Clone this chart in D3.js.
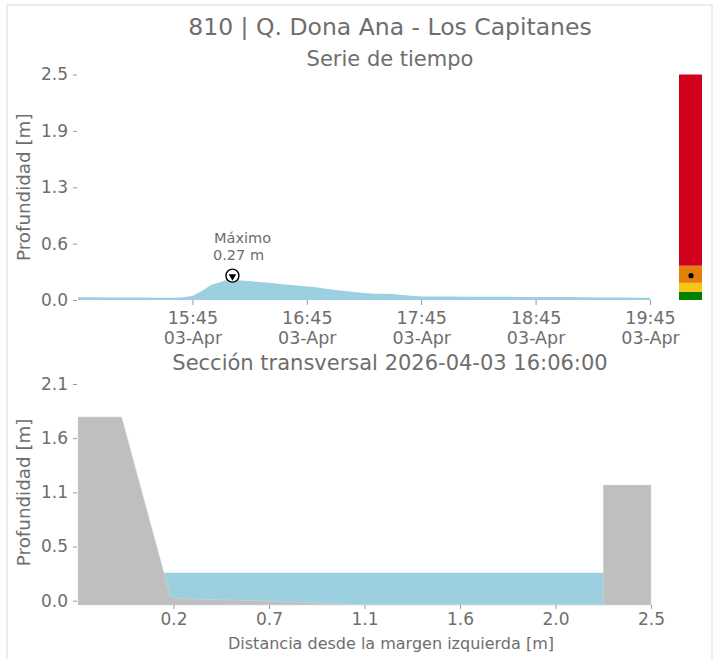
<!DOCTYPE html>
<html>
<head>
<meta charset="utf-8">
<script src="https://cdn.jsdelivr.net/npm/d3@7"></script>
<style>
  html, body { margin: 0; padding: 0; background: #fff; }
  svg { display: block; font-family: "DejaVu Sans", sans-serif; }
</style>
</head>
<body>
<svg id="chart" width="719" height="659"></svg>
<script>
// ---------------- DATA ----------------
const chartTitle = "810 | Q. Dona Ana - Los Capitanes";
const seriesTitle = "Serie de tiempo";
const sectionTitle = "Sección transversal 2026-04-03 16:06:00";
const yLabel = "Profundidad [m]";
const xLabelSection = "Distancia desde la margen izquierda [m]";

// time series (2026-04-03)
const seriesTimes = [
  "14:45","14:50","14:55","15:00","15:05","15:10","15:15","15:20","15:25","15:30",
  "15:35","15:40","15:45","15:50","15:55","16:00","16:03","16:06","16:08","16:10",
  "16:15","16:20","16:25","16:30","16:35","16:40","16:45","16:50","16:55","17:00",
  "17:05","17:10","17:15","17:20","17:25","17:30","17:35","17:40","17:45","17:50",
  "17:55","18:00","18:10","18:20","18:30","18:40","18:50","19:00","19:10","19:20",
  "19:30","19:40","19:45"
];
const seriesDepth = [
  0.030,0.030,0.030,0.029,0.029,0.028,0.028,0.027,0.026,0.026,
  0.025,0.030,0.045,0.100,0.170,0.200,0.225,0.270,0.220,0.215,
  0.210,0.200,0.190,0.180,0.170,0.160,0.150,0.140,0.125,0.110,
  0.100,0.090,0.078,0.068,0.070,0.066,0.056,0.046,0.040,0.040,
  0.039,0.038,0.037,0.036,0.035,0.034,0.033,0.032,0.030,0.029,
  0.027,0.026,0.025
];
const timeTickLabels = ["15:45","16:45","17:45","18:45","19:45"];
const dateTickLabel = "03-Apr";
const seriesYTicks = [0, 0.625, 1.25, 1.875, 2.5];
const seriesYTickLabels = ["0.0","0.6","1.3","1.9","2.5"];
const maxTime = "16:06";
const maxDepth = 0.27;

// alert level bar
const levelBounds = [0, 0.09, 0.19, 0.38, 2.5];
const levelColors = ["#008000", "#f5c518", "#e67e0a", "#d0021b"];
const currentLevel = 0.27;

// cross section
const sectionDist = [-0.26, -0.05, 0.185, 0.22, 0.60, 1.10, 2.27, 2.27, 2.50];
const sectionElev = [1.78, 1.78, 0.04, 0.02, 0.00, -0.04, -0.04, 1.12, 1.12];
const waterLevel = 0.27;
const sectionXTicks = [0.2, 0.66, 1.12, 1.58, 2.04, 2.5];
const sectionXTickLabels = ["0.2","0.7","1.1","1.6","2.0","2.5"];
const sectionYTicks = [0, 0.525, 1.05, 1.575, 2.1];
const sectionYTickLabels = ["0.0","0.5","1.1","1.6","2.1"];

// ---------------- DRAW ----------------
const svg = d3.select("#chart");
const FONT = "DejaVu Sans, sans-serif";
const textColor = "#6e6e6e";
const tickColor = "#9a9a9a";
const waterColor = "#9ccfe0";
const groundColor = "#bfbfbf";

// frame
svg.append("rect").attr("x", 7).attr("y", 5).attr("width", 705).attr("height", 660)
  .attr("fill", "none").attr("stroke", "#e6e6e6").attr("stroke-width", 1.5);

// titles
svg.append("text").attr("x", 390).attr("y", 35).attr("text-anchor", "middle")
  .attr("font-size", 23.5).attr("fill", textColor).text(chartTitle);
svg.append("text").attr("x", 390).attr("y", 66).attr("text-anchor", "middle")
  .attr("font-size", 21).attr("fill", textColor).text(seriesTitle);

// ---- time series panel ----
const parseT = d3.timeParse("%Y-%m-%d %H:%M");
const tData = seriesTimes.map((t, i) => ({ t: parseT("2026-04-03 " + t), v: seriesDepth[i] }));
const x1 = d3.scaleTime()
  .domain([parseT("2026-04-03 14:45"), parseT("2026-04-03 19:45")])
  .range([78, 650]);
const y1 = d3.scaleLinear().domain([0, 2.5]).range([300, 74.5]);

svg.append("path").datum(tData)
  .attr("fill", waterColor)
  .attr("d", d3.area().x(d => x1(d.t)).y0(y1(0)).y1(d => y1(d.v)));

// y axis
const gy1 = svg.append("g").attr("transform", "translate(78,0)")
  .call(d3.axisLeft(y1).tickValues(seriesYTicks)
    .tickFormat((d, i) => seriesYTickLabels[i]).tickSize(4).tickPadding(6));
gy1.select(".domain").remove();
gy1.selectAll(".tick line").attr("stroke", tickColor).attr("transform", "translate(-1,0)");
gy1.selectAll(".tick text").attr("fill", textColor).attr("font-size", 17)
  .attr("font-family", FONT);

// x axis
const timeTicks = timeTickLabels.map(t => parseT("2026-04-03 " + t));
const gx1 = svg.append("g").attr("transform", "translate(0,300)")
  .call(d3.axisBottom(x1).tickValues(timeTicks).tickSize(5).tickFormat(""));
gx1.select(".domain").remove();
gx1.selectAll(".tick line").attr("stroke", tickColor);
gx1.selectAll(".tick").each(function (d, i) {
  const g = d3.select(this);
  g.append("text").attr("y", 23.5).attr("text-anchor", "middle").attr("fill", textColor)
    .attr("font-family", FONT).attr("font-size", 17.5).text(timeTickLabels[i]);
  g.append("text").attr("y", 43.5).attr("text-anchor", "middle").attr("fill", textColor)
    .attr("font-family", FONT).attr("font-size", 17.5).text(dateTickLabel);
});

svg.append("text").attr("transform", `translate(30,${(y1(0) + y1(2.5)) / 2}) rotate(-90)`)
  .attr("text-anchor", "middle").attr("font-size", 18.3).attr("fill", textColor).text(yLabel);

// max marker
const mx = x1(parseT("2026-04-03 " + maxTime)), my = y1(maxDepth);
svg.append("circle").attr("cx", mx).attr("cy", my).attr("r", 6.5)
  .attr("fill", "#fff").attr("stroke", "#000").attr("stroke-width", 1.4);
svg.append("path")
  .attr("d", d3.symbol().type(d3.symbolTriangle).size(24)())
  .attr("transform", `translate(${mx},${my + 0.8}) rotate(180)`)
  .attr("fill", "#000");
svg.append("text").attr("x", 214).attr("y", 242.5).attr("font-size", 14.5)
  .attr("fill", textColor).text("Máximo");
svg.append("text").attr("x", 213).attr("y", 259.5).attr("font-size", 14.5)
  .attr("fill", textColor).text(maxDepth.toFixed(2) + " m");

// level bar
for (let i = 0; i < levelColors.length; i++) {
  svg.append("rect").attr("x", 679).attr("width", 23)
    .attr("y", y1(levelBounds[i + 1])).attr("height", y1(levelBounds[i]) - y1(levelBounds[i + 1]))
    .attr("fill", levelColors[i]);
}
svg.append("circle").attr("cx", 691).attr("cy", y1(currentLevel)).attr("r", 2.6).attr("fill", "#000");

// ---- cross section panel ----
svg.append("text").attr("x", 390).attr("y", 370).attr("text-anchor", "middle")
  .attr("font-size", 21).attr("fill", textColor).text(sectionTitle);

const x2 = d3.scaleLinear().domain([-0.26, 2.5]).range([78, 651]);
const y2 = d3.scaleLinear().domain([-0.042, 2.1]).range([605, 384]);
const sData = sectionDist.map((d, i) => ({ x: d, y: sectionElev[i] }));

svg.append("path").datum(sData)
  .attr("fill", waterColor)
  .attr("d", d3.area().x(d => x2(d.x)).y0(y2(-0.042)).y1(y2(waterLevel)));
svg.append("path").datum(sData)
  .attr("fill", groundColor).attr("stroke", "#d0dadd").attr("stroke-width", 0.5)
  .attr("d", d3.area().x(d => x2(d.x)).y0(y2(-0.042)).y1(d => y2(d.y)));

const gy2 = svg.append("g").attr("transform", "translate(78,0)")
  .call(d3.axisLeft(y2).tickValues(sectionYTicks)
    .tickFormat((d, i) => sectionYTickLabels[i]).tickSize(4).tickPadding(6));
gy2.select(".domain").remove();
gy2.selectAll(".tick line").attr("stroke", tickColor).attr("transform", "translate(-1,0)");
gy2.selectAll(".tick text").attr("fill", textColor).attr("font-size", 17)
  .attr("font-family", FONT);

const gx2 = svg.append("g").attr("transform", "translate(0,605)")
  .call(d3.axisBottom(x2).tickValues(sectionXTicks)
    .tickFormat((d, i) => sectionXTickLabels[i]).tickSize(4).tickPadding(4));
gx2.select(".domain").remove();
gx2.selectAll(".tick line").attr("stroke", tickColor);
gx2.selectAll(".tick text").attr("fill", textColor).attr("font-size", 17)
  .attr("font-family", FONT);

svg.append("text").attr("transform", `translate(30,${(y2(0) + y2(2.1)) / 2}) rotate(-90)`)
  .attr("text-anchor", "middle").attr("font-size", 18.3).attr("fill", textColor).text(yLabel);
svg.append("text").attr("x", 391).attr("y", 649).attr("text-anchor", "middle")
  .attr("font-size", 16).attr("fill", textColor).text(xLabelSection);
</script>
</body>
</html>
